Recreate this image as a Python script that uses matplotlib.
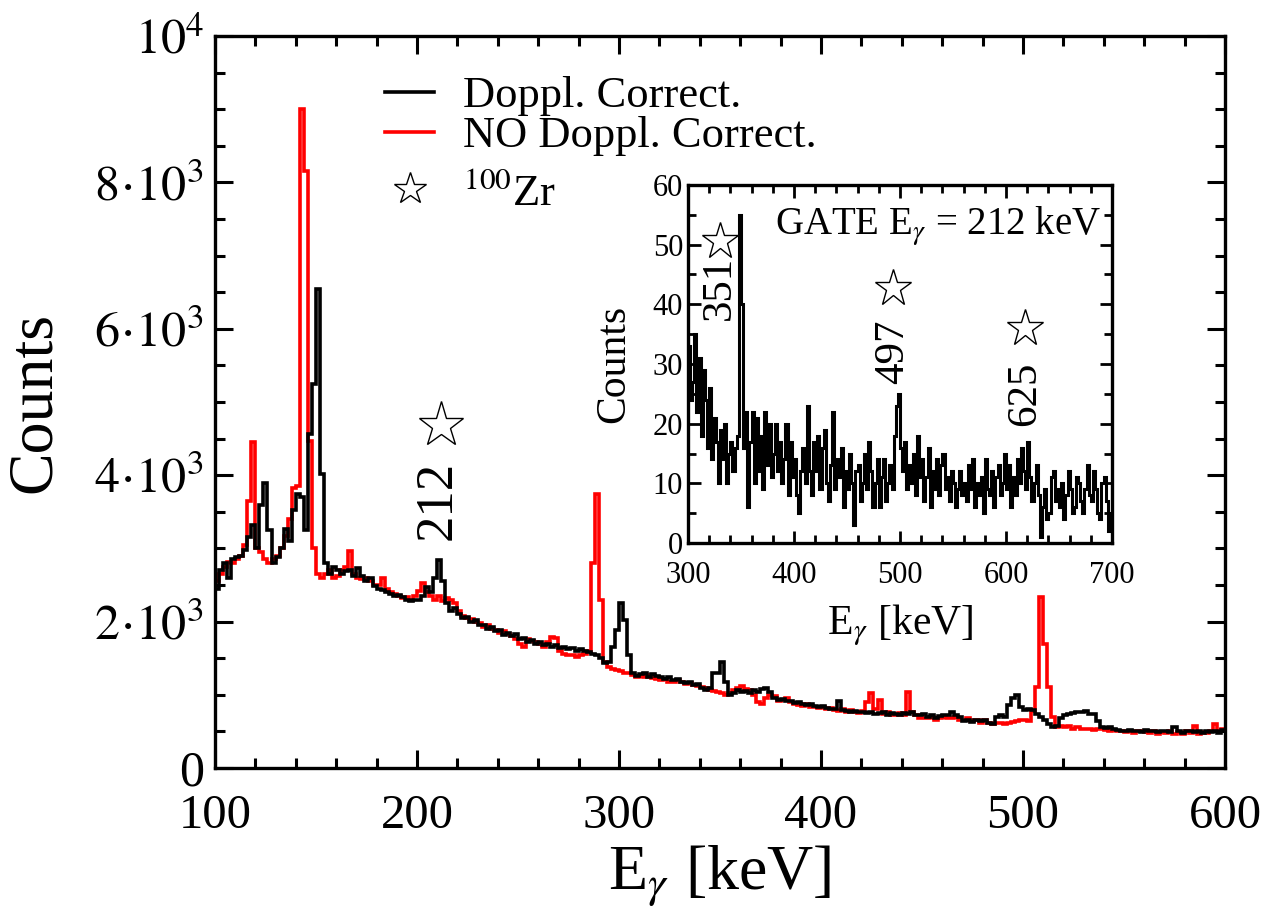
import numpy as np
import matplotlib.pyplot as plt
from matplotlib.lines import Line2D
from matplotlib.ticker import MultipleLocator, FixedLocator, FixedFormatter

plt.rcParams['font.family'] = 'Liberation Serif'
plt.rcParams['mathtext.fontset'] = 'stix'

# main spectrum, 2 keV bins from 100 to 600 keV
e_lo, e_hi, e_bin = 100, 600, 2
# Doppler corrected (black)
doppl = [
    2450, 2700, 2800, 2600, 2850, 2880, 2900, 2980, 3150, 3320,   # 100-118
    3000, 3600, 3890, 3250, 2800, 2880, 3000, 3270, 3100, 3520,   # 120-138
    3750, 3700, 3250, 4570, 5250, 6550, 4020, 2800, 2650, 2740,   # 140-158
    2700, 2650, 2690, 2700, 2620, 2730, 2620, 2550, 2600, 2480,   # 160-178
    2450, 2430, 2400, 2380, 2350, 2360, 2330, 2300, 2280, 2300,   # 180-198
    2300, 2350, 2470, 2400, 2600, 2840, 2550, 2250, 2150, 2180,   # 200-218
    2100, 2050, 2070, 2000, 2020, 1960, 1950, 1900, 1930, 1870,   # 220-238
    1880, 1820, 1850, 1800, 1830, 1760, 1780, 1720, 1750, 1700,   # 240-258
    1720, 1680, 1700, 1650, 1680, 1640, 1660, 1620, 1640, 1600,   # 260-278
    1620, 1600, 1580, 1560, 1550, 1500, 1430, 1450, 1650, 1880,   # 280-298
    2250, 2020, 1550, 1300, 1260, 1280, 1300, 1250, 1290, 1260,   # 300-318
    1240, 1220, 1250, 1200, 1220, 1180, 1160, 1170, 1130, 1150,   # 320-338
    1100, 1070, 1090, 1300, 1300, 1450, 1180, 1000, 1030, 1060,   # 340-358
    1040, 1050, 1020, 1060, 1040, 1080, 1090, 1040, 960, 930,     # 360-378
    940, 910, 920, 890, 900, 870, 860, 880, 850, 840,             # 380-398
    850, 820, 810, 800, 910, 790, 780, 770, 780, 760,             # 400-418
    770, 750, 760, 740, 750, 760, 730, 750, 740, 720,             # 420-438
    750, 740, 770, 730, 720, 740, 700, 720, 680, 710,             # 440-458
    730, 720, 760, 720, 700, 640, 660, 630, 650, 640,             # 460-478
    660, 620, 600, 700, 720, 700, 860, 950, 1000, 830,            # 480-498
    790, 800, 790, 740, 700, 650, 600, 560, 580, 680,             # 500-518
    720, 740, 750, 760, 770, 780, 740, 740, 640, 560,             # 520-538
    550, 560, 540, 520, 500, 510, 520, 500, 510, 490,             # 540-558
    520, 500, 500, 490, 510, 500, 490, 560, 500, 480,             # 560-578
    500, 510, 490, 500, 480, 500, 490, 510, 480, 520,             # 580-598
]
# no Doppler correction (red)
no_doppl = [
    2550, 2650, 2750, 2820, 2800, 2850, 2900, 3050, 3650, 4450,   # 100-118
    3000, 2950, 2850, 2800, 2850, 2900, 3000, 3170, 3400, 3830,   # 120-138
    3850, 9000, 8150, 4470, 3000, 2650, 2600, 2650, 2700, 2600,   # 140-158
    2620, 2700, 2750, 2970, 2650, 2600, 2580, 2600, 2550, 2500,   # 160-178
    2500, 2600, 2450, 2400, 2380, 2350, 2320, 2330, 2300, 2350,   # 180-198
    2420, 2530, 2400, 2350, 2300, 2350, 2280, 2320, 2300, 2250,   # 200-218
    2150, 2080, 2050, 2030, 1990, 1980, 1930, 1950, 1900, 1880,   # 220-238
    1850, 1870, 1830, 1800, 1760, 1700, 1650, 1760, 1730, 1720,   # 240-258
    1700, 1650, 1720, 1790, 1780, 1600, 1560, 1540, 1550, 1520,   # 260-278
    1540, 1560, 1600, 2800, 3750, 2300, 1450, 1380, 1350, 1340,   # 280-298
    1320, 1300, 1300, 1270, 1250, 1260, 1240, 1270, 1230, 1220,   # 300-318
    1200, 1220, 1170, 1180, 1200, 1170, 1150, 1160, 1140, 1120,   # 320-338
    1110, 1090, 1060, 1050, 1040, 1030, 1000, 1020, 1060, 1100,   # 340-358
    1120, 1080, 1060, 1000, 900, 880, 950, 1000, 980, 920,        # 360-378
    930, 950, 900, 880, 860, 850, 880, 830, 840, 820,             # 380-398
    830, 800, 820, 790, 780, 800, 770, 790, 760, 750,             # 400-418
    780, 900, 1020, 800, 930, 740, 760, 720, 730, 750,            # 420-438
    720, 1040, 760, 720, 690, 680, 690, 700, 660, 680,            # 440-458
    700, 680, 690, 700, 660, 650, 680, 640, 660, 620,             # 460-478
    650, 610, 600, 620, 620, 600, 620, 630, 640, 650,             # 480-498
    660, 640, 780, 1110, 2330, 1700, 1110, 700, 560, 580,         # 500-518
    560, 570, 540, 560, 530, 540, 530, 520, 530, 540,             # 520-538
    520, 510, 520, 500, 510, 490, 500, 480, 500, 510,             # 540-558
    490, 480, 500, 470, 490, 480, 500, 470, 490, 470,             # 560-578
    500, 480, 580, 470, 490, 480, 510, 600, 500, 530,             # 580-598
]

# inset: gate on 212 keV, 2 keV bins from 300 to 700 keV
g_lo, g_hi, g_bin = 300, 700, 2
gate_counts = [
    33, 24, 27, 35, 22, 31, 18, 29, 24, 16,   # 300-318
    26, 14, 21, 17, 10, 19, 14, 20, 10, 15,   # 320-338
    17, 12, 16, 18, 55, 40, 16, 22, 6, 17,    # 340-358
    22, 10, 21, 12, 18, 9, 22, 13, 20, 11,    # 360-378
    15, 20, 12, 17, 10, 14, 20, 8, 17, 11,    # 380-398
    14, 8, 5, 12, 16, 10, 23, 12, 8, 17,      # 400-418
    12, 18, 9, 16, 19, 10, 7, 13, 22, 9,      # 420-438
    14, 11, 16, 6, 12, 9, 15, 10, 3, 12,      # 440-458
    13, 7, 10, 15, 9, 17, 12, 6, 10, 14,      # 460-478
    6, 11, 14, 7, 10, 13, 9, 18, 23, 25,      # 480-498
    16, 12, 17, 9, 13, 10, 15, 8, 18, 11,     # 500-518
    14, 7, 11, 16, 6, 12, 9, 14, 8, 13,       # 520-538
    15, 9, 11, 7, 12, 10, 6, 9, 12, 8,        # 540-558
    10, 7, 13, 9, 14, 6, 10, 8, 11, 5,        # 560-578
    14, 9, 8, 12, 6, 11, 13, 8, 10, 15,       # 580-598
    9, 13, 6, 11, 8, 14, 10, 16, 12, 9,       # 600-618
    17, 11, 7, 10, 13, 8, 1, 6, 9, 4,         # 620-638
    5, 11, 12, 7, 9, 6, 10, 4, 8, 12,         # 640-658
    9, 5, 6, 11, 10, 7, 5, 9, 13, 8,          # 660-678
    7, 12, 9, 5, 4, 10, 11, 7, 2, 5,          # 680-698
]

# 100Zr lines: (label, energy, star y, text y)
main_marks = [('212', 212, 4680, 3650)]
gate_marks = [('351', 330, 50.6, 42.7), ('497', 493, 42.7, 32.0), ('625', 618, 36.0, 25.0)]

ytick_vals = [0, 2000, 4000, 6000, 8000, 10000]
ytick_text = ['0', r'$2\!\cdot\!10^{3}$', r'$4\!\cdot\!10^{3}$', r'$6\!\cdot\!10^{3}$',
              r'$8\!\cdot\!10^{3}$', r'$10^{4}$']

edges = np.arange(e_lo, e_hi + e_bin, e_bin)
g_edges = np.arange(g_lo, g_hi + g_bin, g_bin)

fig = plt.figure(figsize=(12.66, 9.24), dpi=100)
ax = fig.add_axes([0.1698, 0.1688, 0.7978, 0.7922])

ax.stairs(no_doppl, edges, baseline=None, color='red', lw=2.6)
ax.stairs(doppl, edges, baseline=None, color='black', lw=2.6)
ax.set_xlim(e_lo, e_hi)
ax.set_ylim(0, 10000)

ax.xaxis.set_major_locator(MultipleLocator(100))
ax.xaxis.set_minor_locator(MultipleLocator(20))
ax.yaxis.set_major_locator(FixedLocator(ytick_vals))
ax.yaxis.set_major_formatter(FixedFormatter(ytick_text))
ax.yaxis.set_minor_locator(MultipleLocator(500))
ax.tick_params(which='both', direction='in', top=True, right=True, width=2.2, labelsize=36)
ax.tick_params(which='major', length=13)
ax.tick_params(which='minor', length=7)
ax.tick_params(axis='x', pad=19, labelsize=35)
ax.tick_params(axis='y', pad=8)
for s in ax.spines.values():
    s.set_linewidth(2.4)

ax.set_xlabel(r'E$_{\gamma}$ [keV]', fontsize=46, labelpad=4)
ax.set_ylabel('Counts', fontsize=46, labelpad=22)

for lab, e, ys, yt in main_marks:
    ax.plot(e, ys, marker='*', ms=34, mfc='white', mec='black', mew=1.0, ls='none')
    ax.text(e - 2, yt, lab, rotation=90, fontsize=38, ha='center', va='center')

line_handles = [Line2D([], [], color='black', lw=2.6),
                Line2D([], [], color='red', lw=2.6)]
leg = ax.legend(line_handles, ['Doppl. Correct.', 'NO Doppl. Correct.'],
                loc='upper left', bbox_to_anchor=(0.129, 1.0), frameon=False,
                fontsize=32, handlelength=1.1, handletextpad=0.65, labelspacing=0.0)
ax.add_artist(leg)
star_handle = [Line2D([], [], marker='*', ms=24, mfc='white', mec='black', mew=1.0, ls='none')]
ax.legend(star_handle, [r'$^{100}$Zr'], loc='upper left', bbox_to_anchor=(0.129, 0.868),
          frameon=False, fontsize=32, handlelength=1.1, handletextpad=0.65)

# inset
ins = fig.add_axes([0.5434, 0.4123, 0.3350, 0.3875])
ins.stairs(gate_counts, g_edges, baseline=None, color='black', lw=2.2)
ins.set_xlim(g_lo, g_hi)
ins.set_ylim(0, 60)
ins.xaxis.set_major_locator(MultipleLocator(100))
ins.xaxis.set_minor_locator(MultipleLocator(20))
ins.yaxis.set_major_locator(MultipleLocator(10))
ins.yaxis.set_minor_locator(MultipleLocator(5))
ins.tick_params(which='both', direction='in', top=True, right=True, width=2.0, labelsize=22)
ins.tick_params(which='major', length=9)
ins.tick_params(which='minor', length=6)
ins.tick_params(axis='x', pad=13)
for s in ins.spines.values():
    s.set_linewidth(2.4)
ins.set_xlabel(r'E$_{\gamma}$ [keV]', fontsize=30, labelpad=9)
ins.set_ylabel('Counts', fontsize=30, labelpad=14)
ins.text(0.59, 0.885, r'GATE E$_{\gamma}$ = 212 keV', transform=ins.transAxes,
         fontsize=28, ha='center', va='center')

for lab, e, ys, yt in gate_marks:
    ins.plot(e, ys, marker='*', ms=28, mfc='white', mec='black', mew=1.0, ls='none')
    ins.text(e, yt, lab, rotation=90, fontsize=31, ha='center', va='center')

fig.savefig('out.png', dpi=100)
